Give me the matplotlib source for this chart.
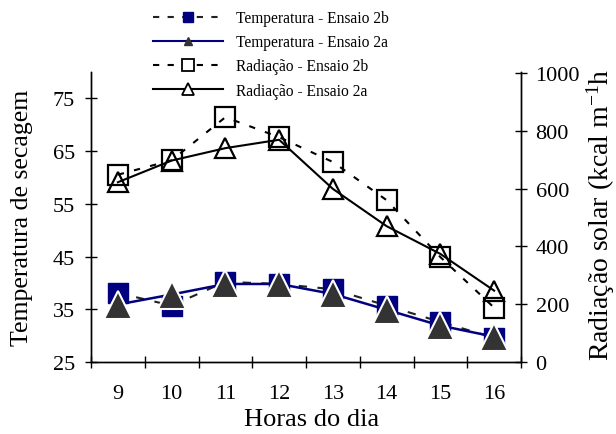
import matplotlib
matplotlib.use("Agg")
import matplotlib.pyplot as plt
from matplotlib.lines import Line2D

plt.rcParams['font.family'] = ['Liberation Serif', 'DejaVu Serif']
plt.rcParams['mathtext.fontset'] = 'custom'
plt.rcParams['mathtext.rm'] = 'Liberation Serif'
plt.rcParams['mathtext.it'] = 'Liberation Serif:italic'

hours = ['9', '10', '11', '12', '13', '14', '15', '16']
temp_2b = [38.1, 35.7, 40.2, 39.8, 38.8, 35.7, 32.6, 29.6]
temp_2a = [35.9, 37.8, 39.8, 39.8, 37.9, 34.9, 31.9, 29.8]
rad_2b = [648, 698, 847, 778, 692, 560, 363, 188]
rad_2a = [622, 697, 740, 769, 599, 470, 374, 247]

labels = ['Temperatura - Ensaio 2b', 'Temperatura - Ensaio 2a',
          'Radiação - Ensaio 2b', 'Radiação - Ensaio 2a']

W, H = 616, 435
fig = plt.figure(figsize=(W / 100, H / 100), dpi=100)
ax = fig.add_axes([91 / W, 1 - 363 / H, (521 - 91) / W, (363 - 73) / H])
ax2 = ax.twinx()

x = list(range(1, len(hours) + 1))

# Temperature (left axis)
ax.plot(x, temp_2b, color='#222222', lw=1.5, dashes=(4, 5), zorder=2)
ax.plot(x, temp_2b, ls='none', marker='s', ms=15, mfc='#000080', mec='#000080', zorder=3)
ax.plot(x, temp_2a, color='#000080', lw=1.8, zorder=4)
ax.plot(x, temp_2a, ls='none', marker='^', ms=20, mfc='#333333', mec='white', mew=1.5, zorder=5)

# Radiation (right axis)
ax2.plot(x, rad_2b, color='black', lw=1.5, dashes=(3, 5), zorder=2)
ax2.plot(x, rad_2b, ls='none', marker='s', ms=15, mfc='none', mec='black', mew=1.6, zorder=3)
ax2.plot(x, rad_2a, color='black', lw=1.5, zorder=4)
ax2.plot(x, rad_2a, ls='none', marker='^', ms=15, mfc='none', mec='black', mew=1.6, zorder=5)

ax.set_xlim(0.5, len(hours) + 0.5)
ax.set_ylim(25, 80)
ax2.set_ylim(0, 1000 * 290 / 289)

ax.set_xticks(x)
ax.set_xticklabels(hours)
ax.set_xticks([i + 0.5 for i in range(0, len(hours) + 1)], minor=True)
ax.tick_params(axis='x', which='major', length=0, pad=16, labelsize=16)
ax.tick_params(axis='x', which='minor', direction='inout', length=9, width=1)
ax.set_yticks([25, 35, 45, 55, 65, 75])
ax.tick_params(axis='y', which='major', direction='inout', length=9, width=1, pad=7, labelsize=16)
ax2.set_yticks([0, 200, 400, 600, 800, 1000])
ax2.tick_params(axis='y', which='major', direction='inout', length=9, width=1, pad=6, labelsize=16)

for a in (ax, ax2):
    a.spines['top'].set_visible(False)
    for s in ('left', 'right', 'bottom'):
        a.spines[s].set_linewidth(1)
ax.patch.set_visible(False)

fig.text(312 / W, 1 - 420 / H, 'Horas do dia', ha='center', va='center', fontsize=19)
fig.text(22 / W, 1 - 218 / H, 'Temperatura de secagem', rotation=90,
         ha='center', va='center', fontsize=18.5)
fig.text(601 / W, 1 - 361 / H, 'Radiação solar (kcal m$^{-1}$h', rotation=90,
         ha='center', va='bottom', fontsize=20)

handles = [
    Line2D([], [], color='#222222', lw=1.5, dashes=(3, 4), marker='s', ms=7,
           mfc='#000080', mec='#000080'),
    Line2D([], [], color='#000080', lw=1.5, marker='^', ms=6,
           mfc='#333333', mec='#333333'),
    Line2D([], [], color='black', lw=1.5, dashes=(3, 4), marker='s', ms=8,
           mfc='white', mec='black', mew=1.3),
    Line2D([], [], color='black', lw=1.5, marker='^', ms=8,
           mfc='white', mec='black', mew=1.3),
]
fig.legend(handles, labels, loc='upper left', bbox_to_anchor=(153 / W, 1 - 11 / H),
           frameon=False, fontsize=11.2, handlelength=4.5, handletextpad=0.85,
           labelspacing=0.53, borderpad=0, borderaxespad=0)

fig.savefig('out.png', dpi=100)
